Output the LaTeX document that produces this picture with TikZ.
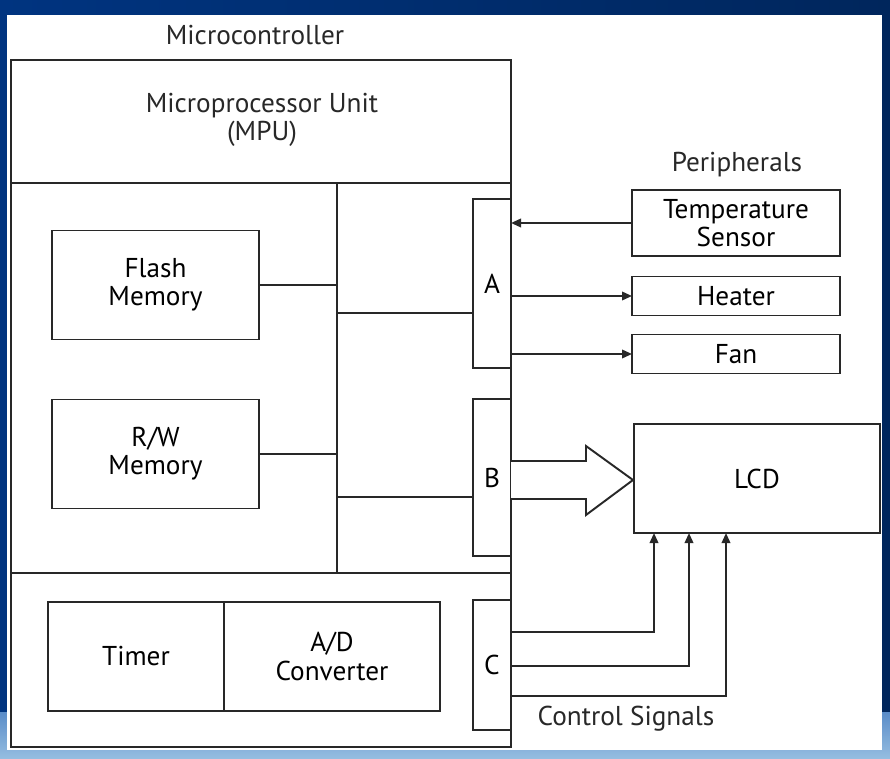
\documentclass[tikz,border=0pt]{standalone}
\usepackage{fontspec}
\setmainfont{PT Sans}
\usepackage{xcolor}
\usepackage{tikz}
\usetikzlibrary{arrows.meta,positioning,calc}
\definecolor{ink}{RGB}{40,40,40}
\definecolor{deepblue}{RGB}{0,52,128}
\definecolor{nightblue}{RGB}{0,38,92}
\definecolor{skyblue}{RGB}{150,190,225}
\definecolor{haze}{RGB}{90,140,200}
\tikzset{
  wire/.style={line width=1.1pt,ink},
  sig/.style={line width=1.1pt,ink,-{Triangle[length=2mm,width=1.7mm]}},
  blockbox/.style={draw=ink,line width=1.1pt,fill=white,inner sep=0pt,outer sep=0pt,
    align=center,font=\fontsize{15.5}{16}\selectfont},
  portbox/.style={blockbox,minimum width=7.6mm},
  caption/.style={font=\fontsize{15.5}{16}\selectfont,text=ink,align=center}
}

\begin{document}
\begin{tikzpicture}[x=0.2mm,y=-0.2mm]
  % slide background
  \fill[left color=deepblue,right color=nightblue] (0,0) rectangle (890,759);
  \fill[top color=haze,bottom color=skyblue] (0,712) rectangle (890,759);
  \fill[white] (7,15) rectangle (882,750);
  \useasboundingbox (0,0) rectangle (890,759);

  % microcontroller outline
  \draw[wire] (11,60) rectangle (511,747);
  \draw[wire] (11,183) -- (511,183);
  \draw[wire] (11,573) -- (511,573);
  \node[caption] (mcu) at (255,35) {Microcontroller};
  \node[caption] (mpu) at (262,120) {Microprocessor Unit\\(MPU)};
  \coordinate (bustop) at (337,183);
  \coordinate (busbot) at (337,573);
  \draw[wire] (bustop) -- (busbot);

  % memories and ports
  \node[blockbox,minimum width=41.4mm,minimum height=21.8mm] (flash) at (155.5,285) {Flash\\Memory};
  \node[blockbox,minimum width=41.4mm,minimum height=21.8mm] (rw) at (155.5,454) {R/W\\Memory};
  \node[portbox,minimum height=33.8mm] (A) at (492,283.5) {A};
  \node[portbox,minimum height=31.4mm] (B) at (492,477.5) {B};
  \node[portbox,minimum height=26mm] (C) at (492,665) {C};
  \node[blockbox,minimum width=35.2mm,minimum height=21.8mm] (timer) at (136,656.5) {Timer};
  \node[blockbox,minimum width=43.2mm,minimum height=21.8mm] (adc) at (332,656.5) {A/D\\Converter};

  \draw[wire] (flash.east) -- (flash.east -| bustop);
  \draw[wire] (rw.east) -- (rw.east -| bustop);
  \coordinate (busA) at (337,313);
  \coordinate (busB) at (337,497);
  \draw[wire] (busA) -- (busA -| A.west);
  \draw[wire] (busB) -- (busB -| B.west);
  \draw[wire] ($(adc.north west)+(24,0)$) -- ($(adc.north west)+(24,0)$ |- busbot);
  \draw[wire] ($(C.north)+(1,0)$) -- ($(C.north)+(1,0)$ |- busbot);

  % peripherals
  \node[caption] (periph) at (737,165) {Peripherals};
  \node[blockbox,minimum width=41.6mm,minimum height=13.2mm] (temp) at (736,223) {Temperature\\Sensor};
  \node[blockbox,minimum width=41.6mm,minimum height=7.8mm] (heater) at (736,296) {Heater};
  \node[blockbox,minimum width=41.6mm,minimum height=7.8mm] (fan) at (736,354) {Fan};
  \node[blockbox,minimum width=49.2mm,minimum height=21.8mm] (lcd) at (757,478.5) {LCD};

  \draw[sig] (temp.west) -- (temp.west -| A.east);
  \draw[sig] (heater.west -| A.east) -- (heater.west);
  \draw[sig] (fan.west -| A.east) -- (fan.west);

  % wide data arrow B -> LCD
  \draw[wire,fill=white,line join=miter]
    ($(B.east)+(0,-16.5)$) -- ($(B.east)+(75,-16.5)$) -- ($(B.east)+(75,-31.5)$)
    -- ($(lcd.west)+(-1,1.5)$) -- ($(B.east)+(75,37.5)$) -- ($(B.east)+(75,21.5)$)
    -- ($(B.east)+(0,21.5)$);

  % control signals C -> LCD
  \draw[sig] ($(C.east)+(0,-33)$) -| ($(lcd.south)+(-103,0)$);
  \draw[sig] ($(C.east)+(0,1)$) -| ($(lcd.south)+(-68,0)$);
  \draw[sig] ($(C.east)+(0,31)$) -| ($(lcd.south)+(-31,0)$);
  \node[caption] (ctrl) at (626,719) {Control Signals};
\end{tikzpicture}
\end{document}
